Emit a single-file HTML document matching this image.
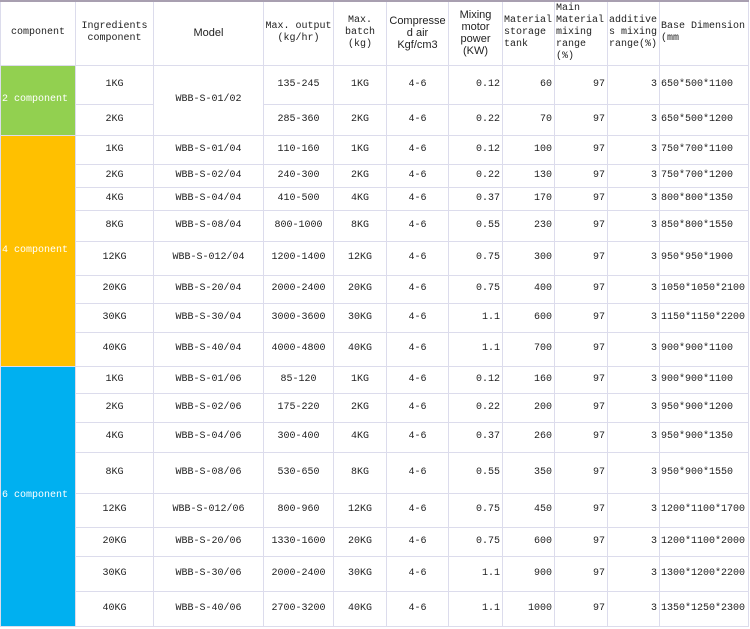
<!DOCTYPE html>
<html><head><meta charset="utf-8"><style>
html,body{margin:0;padding:0;background:#fff;width:750px;height:629px;overflow:hidden}
table{border-collapse:collapse;table-layout:fixed;position:absolute;left:0;top:0;border-top:2px solid #a89fb0}
td{border:1px solid #dcdcec;padding:0 1px;font-family:"Liberation Mono",monospace;font-size:10px;color:#222;text-align:center;vertical-align:middle;white-space:nowrap;overflow:hidden;line-height:12px}
.s{font-family:"Liberation Sans",sans-serif;font-size:11px}
.r{text-align:right;padding-right:2px}
.l{text-align:left}
.g{background:#92d050;color:#fff;text-align:left}
.y{background:#ffc000;color:#fff;text-align:left}
.b{background:#00b0f0;color:#fff;text-align:left}
</style></head><body>
<table>
<colgroup><col style="width:75px"><col style="width:78px"><col style="width:110px"><col style="width:70px"><col style="width:53px"><col style="width:62px"><col style="width:54px"><col style="width:52px"><col style="width:53px"><col style="width:52px"><col style="width:89px"></colgroup>
<tr style="height:64px"><td>component</td><td>Ingredients<br>component</td><td class="s">Model</td><td>Max. output<br>(kg/hr)</td><td>Max.<br>batch<br>(kg)</td><td class="s">Compresse<br>d air<br>Kgf/cm3</td><td class="s">Mixing<br>motor<br>power<br>(KW)</td><td class="l">Material<br>storage<br>tank</td><td class="l">Main<br>Material<br>mixing<br>range<br>(%)</td><td class="l">additive<br>s mixing<br>range(%)</td><td class="l">Base Dimension<br>(mm</td></tr>
<tr style="height:39px"><td class="g" rowspan="2">2 component</td><td>1KG</td><td rowspan="2">WBB-S-01/02</td><td>135-245</td><td>1KG</td><td>4-6</td><td class="r">0.12</td><td class="r">60</td><td class="r">97</td><td class="r">3</td><td class="l">650*500*1100</td></tr>
<tr style="height:31px"><td>2KG</td><td>285-360</td><td>2KG</td><td>4-6</td><td class="r">0.22</td><td class="r">70</td><td class="r">97</td><td class="r">3</td><td class="l">650*500*1200</td></tr>
<tr style="height:29px"><td class="y" rowspan="8">4 component</td><td>1KG</td><td>WBB-S-01/04</td><td>110-160</td><td>1KG</td><td>4-6</td><td class="r">0.12</td><td class="r">100</td><td class="r">97</td><td class="r">3</td><td class="l">750*700*1100</td></tr>
<tr style="height:23px"><td>2KG</td><td>WBB-S-02/04</td><td>240-300</td><td>2KG</td><td>4-6</td><td class="r">0.22</td><td class="r">130</td><td class="r">97</td><td class="r">3</td><td class="l">750*700*1200</td></tr>
<tr style="height:23px"><td>4KG</td><td>WBB-S-04/04</td><td>410-500</td><td>4KG</td><td>4-6</td><td class="r">0.37</td><td class="r">170</td><td class="r">97</td><td class="r">3</td><td class="l">800*800*1350</td></tr>
<tr style="height:31px"><td>8KG</td><td>WBB-S-08/04</td><td>800-1000</td><td>8KG</td><td>4-6</td><td class="r">0.55</td><td class="r">230</td><td class="r">97</td><td class="r">3</td><td class="l">850*800*1550</td></tr>
<tr style="height:34px"><td>12KG</td><td>WBB-S-012/04</td><td>1200-1400</td><td>12KG</td><td>4-6</td><td class="r">0.75</td><td class="r">300</td><td class="r">97</td><td class="r">3</td><td class="l">950*950*1900</td></tr>
<tr style="height:28px"><td>20KG</td><td>WBB-S-20/04</td><td>2000-2400</td><td>20KG</td><td>4-6</td><td class="r">0.75</td><td class="r">400</td><td class="r">97</td><td class="r">3</td><td class="l">1050*1050*2100</td></tr>
<tr style="height:29px"><td>30KG</td><td>WBB-S-30/04</td><td>3000-3600</td><td>30KG</td><td>4-6</td><td class="r">1.1</td><td class="r">600</td><td class="r">97</td><td class="r">3</td><td class="l">1150*1150*2200</td></tr>
<tr style="height:34px"><td>40KG</td><td>WBB-S-40/04</td><td>4000-4800</td><td>40KG</td><td>4-6</td><td class="r">1.1</td><td class="r">700</td><td class="r">97</td><td class="r">3</td><td class="l">900*900*1100</td></tr>
<tr style="height:27px"><td class="b" rowspan="8">6 component</td><td>1KG</td><td>WBB-S-01/06</td><td>85-120</td><td>1KG</td><td>4-6</td><td class="r">0.12</td><td class="r">160</td><td class="r">97</td><td class="r">3</td><td class="l">900*900*1100</td></tr>
<tr style="height:29px"><td>2KG</td><td>WBB-S-02/06</td><td>175-220</td><td>2KG</td><td>4-6</td><td class="r">0.22</td><td class="r">200</td><td class="r">97</td><td class="r">3</td><td class="l">950*900*1200</td></tr>
<tr style="height:30px"><td>4KG</td><td>WBB-S-04/06</td><td>300-400</td><td>4KG</td><td>4-6</td><td class="r">0.37</td><td class="r">260</td><td class="r">97</td><td class="r">3</td><td class="l">950*900*1350</td></tr>
<tr style="height:41px"><td>8KG</td><td>WBB-S-08/06</td><td>530-650</td><td>8KG</td><td>4-6</td><td class="r">0.55</td><td class="r">350</td><td class="r">97</td><td class="r">3</td><td class="l">950*900*1550</td></tr>
<tr style="height:34px"><td>12KG</td><td>WBB-S-012/06</td><td>800-960</td><td>12KG</td><td>4-6</td><td class="r">0.75</td><td class="r">450</td><td class="r">97</td><td class="r">3</td><td class="l">1200*1100*1700</td></tr>
<tr style="height:29px"><td>20KG</td><td>WBB-S-20/06</td><td>1330-1600</td><td>20KG</td><td>4-6</td><td class="r">0.75</td><td class="r">600</td><td class="r">97</td><td class="r">3</td><td class="l">1200*1100*2000</td></tr>
<tr style="height:35px"><td>30KG</td><td>WBB-S-30/06</td><td>2000-2400</td><td>30KG</td><td>4-6</td><td class="r">1.1</td><td class="r">900</td><td class="r">97</td><td class="r">3</td><td class="l">1300*1200*2200</td></tr>
<tr style="height:35px"><td>40KG</td><td>WBB-S-40/06</td><td>2700-3200</td><td>40KG</td><td>4-6</td><td class="r">1.1</td><td class="r">1000</td><td class="r">97</td><td class="r">3</td><td class="l">1350*1250*2300</td></tr>
</table>
</body></html>
